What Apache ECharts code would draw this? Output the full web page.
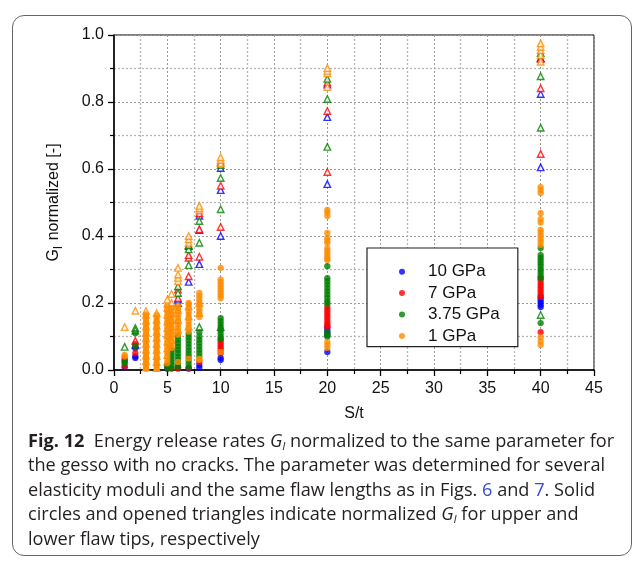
<!DOCTYPE html>
<html>
<head>
<meta charset="utf-8">
<script src="https://cdn.jsdelivr.net/npm/echarts@6/dist/echarts.min.js"></script>
<style>
  html, body { margin:0; padding:0; background:#fff; }
  #frame { position:absolute; left:12px; top:15px; width:620px; height:541px; border:1.3px solid #666; border-radius:12px; box-sizing:border-box; }
  #chart { position:absolute; left:0; top:0; width:636px; height:567px; }
  #caption { position:absolute; left:28px; top:428px; font-family:'Open Sans','Noto Sans',sans-serif; font-size:17.5px; line-height:24.4px; color:#231f20; white-space:nowrap; transform-origin:left top; }
  #caption b { font-weight:700; }
  #caption sub { font-size:11px; vertical-align:-3px; line-height:0; }
  #caption .lnk { color:#3a49d8; }
</style>
</head>
<body>
<div id="frame"></div>
<div id="chart"></div>
<div id="caption">
  <div id="l1"><b>Fig. 12</b>&nbsp; Energy release rates <i>G<sub>I</sub></i> normalized to the same parameter for</div>
  <div>the gesso with no cracks. The parameter was determined for several</div>
  <div>elasticity moduli and the same flaw lengths as in Figs. <span class="lnk">6</span> and <span class="lnk">7</span>. Solid</div>
  <div>circles and opened triangles indicate normalized <i>G<sub>I</sub></i> for upper and</div>
  <div>lower flaw tips, respectively</div>
</div>
<script>
// ---------------- DATA ----------------
const seriesNames = ['10 GPa', '7 GPa', '3.75 GPa', '1 GPa'];
const xTicks = [0, 5, 10, 15, 20, 25, 30, 35, 40, 45];
const yTicks = [0.0, 0.2, 0.4, 0.6, 0.8, 1.0];

// upper flaw tip (solid circles), [S/t, G_I normalized]
const upper10 = [
  [1,0.028],[1,0.008],
  [2,0.065],[2,0.04],[2,0.036],
  [5,0.004],[6,0.008],[7,0.004],
  [8,0.015],[8,0.007],
  [10,0.036],[10,0.03],
  [20,0.128],[20,0.12],[20,0.112],[20,0.104],[20,0.054],
  [40,0.218],[40,0.21],[40,0.203],[40,0.195],[40,0.188]
];
const upper7 = [
  [1,0.035],[1,0.012],
  [2,0.077],[2,0.05],
  [5,0.008],[5.4,0.004],[6,0.004],[7,0.006],
  [8,0.025],
  [10,0.09],[10,0.082],[10,0.075],[10,0.068],[10,0.06],[10,0.05],
  [20,0.188],[20,0.18],[20,0.172],[20,0.164],[20,0.156],[20,0.148],[20,0.14],[20,0.133],[20,0.128],
  [40,0.275],[40,0.267],[40,0.258],[40,0.25],[40,0.242],[40,0.234],[40,0.226],[40,0.218],[40,0.113]
];
const upper375 = [
  [1,0.025],[1,0.02],
  [2,0.11],[2,0.072],
  [5,0.005],[5,0.014],
  [5.4,0.006],[5.4,0.015],[5.4,0.024],[5.4,0.033],[5.4,0.042],[5.4,0.051],[5.4,0.06],
  [6,0.01],[6,0.02],[6,0.03],[6,0.04],[6,0.05],[6,0.06],[6,0.07],[6,0.08],[6,0.09],[6,0.1],
  [7,0.008],[7,0.018],[7,0.028],[7,0.038],[7,0.048],[7,0.058],[7,0.068],[7,0.078],[7,0.088],[7,0.098],[7,0.108],
  [8,0.04],[8,0.05],[8,0.06],[8,0.07],[8,0.08],[8,0.09],[8,0.1],[8,0.113],
  [10,0.155],[10,0.146],[10,0.137],[10,0.128],[10,0.119],[10,0.11],[10,0.1],[10,0.092],
  [20,0.31],[20,0.274],[20,0.265],[20,0.255],[20,0.245],[20,0.235],[20,0.225],[20,0.215],[20,0.205],[20,0.198],[20,0.113],[20,0.106],[20,0.099],
  [40,0.364],[40,0.343],[40,0.335],[40,0.327],[40,0.318],[40,0.31],[40,0.3],[40,0.292],[40,0.283],[40,0.275],[40,0.14]
];
const upper1 = [
  [1,0.045],[1,0.04],
  [3,0.004],[3,0.012],[3,0.021],[3,0.03],[3,0.038],[3,0.047],[3,0.056],[3,0.064],[3,0.073],[3,0.082],
  [3,0.09],[3,0.099],[3,0.108],[3,0.116],[3,0.125],[3,0.134],[3,0.142],[3,0.151],[3,0.16],[3,0.166],
  [4,0.004],[4,0.013],[4,0.022],[4,0.031],[4,0.04],[4,0.049],[4,0.058],[4,0.067],[4,0.076],[4,0.085],
  [4,0.094],[4,0.103],[4,0.112],[4,0.121],[4,0.13],[4,0.139],[4,0.148],[4,0.157],[4,0.164],
  [5,0.02],[5,0.03],[5,0.04],[5,0.05],[5,0.06],[5,0.07],[5,0.08],[5,0.09],[5,0.1],[5,0.11],
  [5,0.12],[5,0.13],[5,0.14],[5,0.15],[5,0.16],[5,0.17],[5,0.18],[5,0.19],
  [5.4,0.066],[5.4,0.075],[5.4,0.085],[5.4,0.095],[5.4,0.105],[5.4,0.115],[5.4,0.125],[5.4,0.135],
  [5.4,0.145],[5.4,0.155],[5.4,0.165],[5.4,0.175],[5.4,0.185],
  [6,0.024],[6,0.105],[6,0.115],[6,0.125],[6,0.135],[6,0.145],[6,0.155],[6,0.165],[6,0.175],[6,0.185],[6,0.192],
  [7,0.034],[7,0.115],[7,0.125],[7,0.135],[7,0.145],[7,0.155],[7,0.165],[7,0.175],[7,0.185],[7,0.195],[7,0.2],
  [8,0.034],[8,0.03],[8,0.158],[8,0.167],[8,0.176],[8,0.185],[8,0.194],[8,0.203],[8,0.212],[8,0.221],[8,0.23],
  [10,0.305],[10,0.27],[10,0.262],[10,0.254],[10,0.246],[10,0.238],[10,0.23],[10,0.222],[10,0.214],[10,0.054],
  [20,0.478],[20,0.47],[20,0.46],[20,0.409],[20,0.394],[20,0.386],[20,0.379],[20,0.364],[20,0.356],[20,0.348],[20,0.34],[20,0.333],[20,0.328],
  [20,0.084],[20,0.075],[20,0.066],
  [40,0.546],[40,0.537],[40,0.528],[40,0.468],[40,0.45],[40,0.44],[40,0.418],[40,0.41],[40,0.4],[40,0.39],[40,0.382],[40,0.373],
  [40,0.098],[40,0.086],[40,0.075]
];

// lower flaw tip (open triangles)
const lower10 = [
  [2,0.075],
  [6,0.2],[6,0.21],
  [7,0.263],[7,0.37],
  [8,0.316],[8,0.418],[8,0.46],
  [10,0.4],[10,0.537],[10,0.603],
  [20,0.555],[20,0.755],[20,0.852],
  [40,0.605],[40,0.824],[40,0.931]
];
const lower7 = [
  [2,0.087],
  [6,0.215],[6,0.24],
  [7,0.28],[7,0.335],[7,0.343],
  [8,0.338],[8,0.42],[8,0.468],
  [10,0.427],[10,0.55],[10,0.62],
  [20,0.591],[20,0.773],[20,0.858],
  [40,0.645],[40,0.841],[40,0.928]
];
const lower375 = [
  [1,0.069],
  [2,0.125],[2,0.118],
  [6,0.23],[6,0.25],
  [7,0.313],[7,0.36],[7,0.373],
  [8,0.128],[8,0.38],[8,0.445],
  [10,0.128],[10,0.48],[10,0.573],[10,0.612],
  [20,0.666],[20,0.809],[20,0.869],
  [40,0.164],[40,0.723],[40,0.877],[40,0.946]
];
const lower1 = [
  [1,0.128],
  [2,0.177],
  [3,0.008],[3,0.026],[3,0.043],[3,0.06],[3,0.078],[3,0.095],[3,0.112],[3,0.13],[3,0.147],[3,0.165],[3,0.176],
  [4,0.006],[4,0.024],[4,0.042],[4,0.06],[4,0.078],[4,0.096],[4,0.114],[4,0.132],[4,0.15],[4,0.17],
  [5,0.025],[5,0.045],[5,0.065],[5,0.085],[5,0.105],[5,0.125],[5,0.145],[5,0.165],[5,0.185],[5,0.198],[5,0.21],
  [5.4,0.07],[5.4,0.09],[5.4,0.11],[5.4,0.13],[5.4,0.15],[5.4,0.17],[5.4,0.19],[5.4,0.2],[5.4,0.227],
  [6,0.12],[6,0.15],[6,0.18],[6,0.265],[6,0.275],[6,0.285],[6,0.305],
  [7,0.13],[7,0.16],[7,0.19],[7,0.38],[7,0.39],[7,0.4],
  [8,0.17],[8,0.2],[8,0.477],[8,0.483],[8,0.49],
  [10,0.617],[10,0.627],[10,0.635],
  [20,0.845],[20,0.886],[20,0.893],[20,0.901],
  [40,0.92],[40,0.94],[40,0.955],[40,0.965],[40,0.975]
];

const colors = ['#0000ff', '#ff0000', '#008000', '#ff8c00'];
const upperData = [upper10, upper7, upper375, upper1];
const lowerData = [lower10, lower7, lower375, lower1];

// ---------------- CHART ----------------
const chart = echarts.init(document.getElementById('chart'), null, { renderer: 'canvas' });
const axisFont = 'Liberation Sans, Arial, sans-serif';
const series = [];
lowerData.forEach((d, i) => {
  series.push({
    name: seriesNames[i] + ' (lower)', type: 'scatter', data: d, symbol: 'triangle', symbolSize: 6.5,
    itemStyle: { color: '#ffffff', borderColor: colors[i], borderWidth: 1.4 }, z: 2
  });
});
upperData.forEach((d, i) => {
  series.push({
    name: seriesNames[i], type: 'scatter', data: d, symbol: 'circle', symbolSize: 6.3,
    itemStyle: { color: colors[i] }, z: 3
  });
});

chart.setOption({
  animation: false,
  grid: { left: 114, right: 42, top: 35, bottom: 197, show: true, borderColor: '#000', borderWidth: 1, backgroundColor: 'transparent' },
  legend: {
    data: seriesNames,
    orient: 'vertical', left: 367, top: 248,
    padding: [13, 18, 0, 32], itemGap: 0,
    itemWidth: 42, itemHeight: 6, icon: 'circle',
    backgroundColor: '#fff', borderColor: '#222', borderWidth: 1.2,
    textStyle: { fontFamily: axisFont, fontSize: 17, color: '#111', lineHeight: 21.4 },
    selectedMode: false
  },
  xAxis: {
    type: 'value', min: 0, max: 45, interval: 5,
    name: 'S/t', nameLocation: 'middle', nameGap: 36,
    nameTextStyle: { fontFamily: axisFont, fontSize: 16, color: '#111' },
    axisLine: { show: true, onZero: false, lineStyle: { color: '#000', width: 1.5 } },
    axisTick: { show: true, inside: false, length: 6, lineStyle: { color: '#000', width: 1.3 } },
    minorTick: { show: true, splitNumber: 2, length: 4, lineStyle: { color: '#000', width: 1.2 } },
    axisLabel: { fontFamily: axisFont, fontSize: 16, color: '#111', margin: 11, formatter: v => xTicks.includes(v) ? String(v) : '' },
    splitLine: { show: true, lineStyle: { color: '#999', type: [2, 2], width: 1 } },
    minorSplitLine: { show: true, lineStyle: { color: '#b5b5b5', type: [2, 2], width: 1.3 } }
  },
  yAxis: {
    type: 'value', min: 0, max: 1, interval: 0.2,
    name: '{g|G}{s|I}{g| normalized [-]}', nameLocation: 'middle', nameGap: 49, nameRotate: 90,
    nameTextStyle: {
      fontFamily: axisFont, fontSize: 16, color: '#111',
      rich: {
        g: { fontFamily: axisFont, fontSize: 16, color: '#111', verticalAlign: 'middle', lineHeight: 22 },
        s: { fontFamily: axisFont, fontSize: 12, color: '#111', verticalAlign: 'bottom', lineHeight: 22, padding: [0, 1, 0, 0] }
      }
    },
    axisLine: { show: true, onZero: false, lineStyle: { color: '#000', width: 1.5 } },
    axisTick: { show: true, inside: false, length: 6, lineStyle: { color: '#000', width: 1.3 } },
    minorTick: { show: true, splitNumber: 2, length: 4, lineStyle: { color: '#000', width: 1.2 } },
    axisLabel: { fontFamily: axisFont, fontSize: 16, color: '#111', margin: 10, formatter: v => yTicks.some(t => Math.abs(t - v) < 1e-9) ? v.toFixed(1) : '' },
    splitLine: { show: true, lineStyle: { color: '#999', type: [2, 2], width: 1 } },
    minorSplitLine: { show: true, lineStyle: { color: '#b5b5b5', type: [2, 2], width: 1.3 } }
  },
  series: series
});

// fit the caption's first line to the measured width of the original
const cap = document.getElementById('caption');
const l1 = document.getElementById('l1');
const w = l1.scrollWidth;
const target = 586;
cap.style.transform = 'scaleX(' + (target / w) + ')';
</script>
</body>
</html>
